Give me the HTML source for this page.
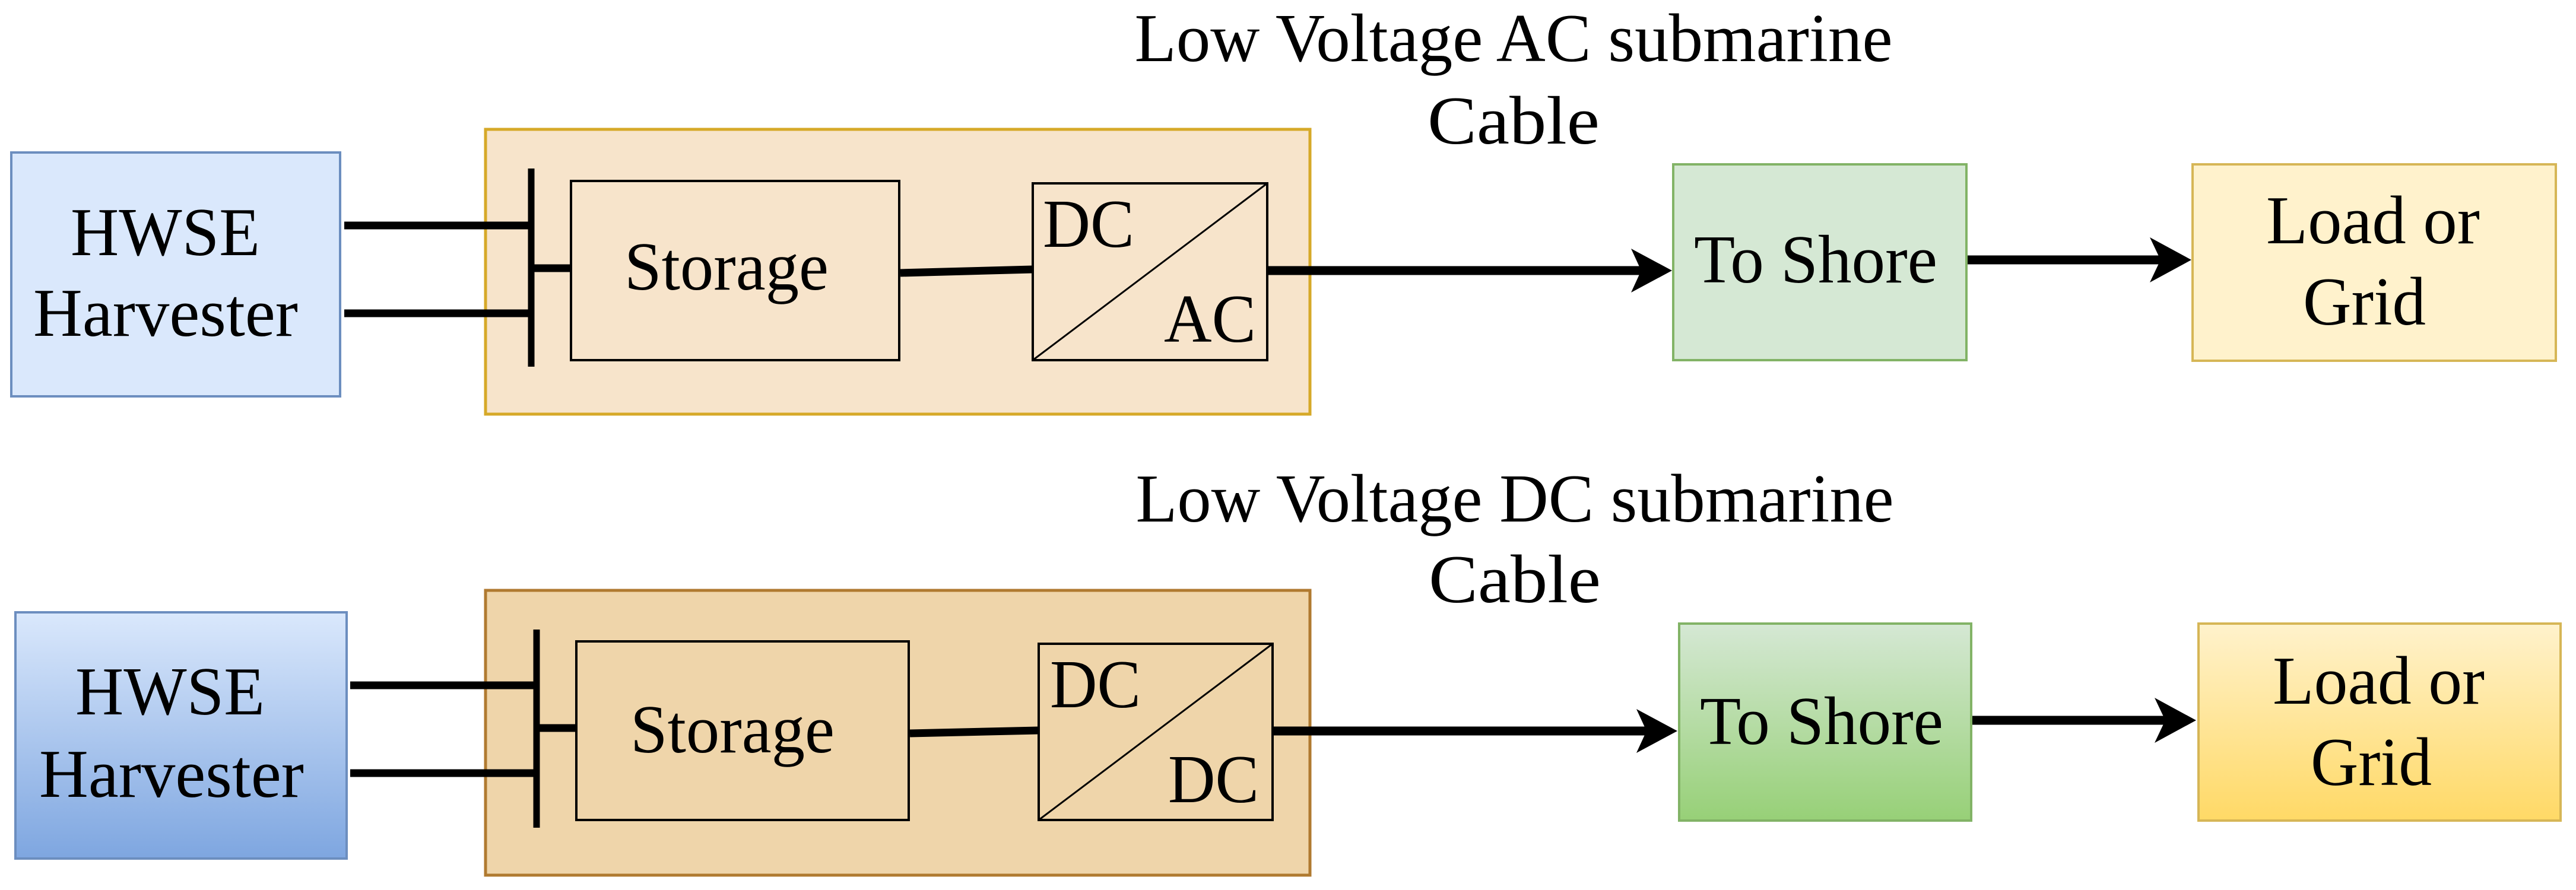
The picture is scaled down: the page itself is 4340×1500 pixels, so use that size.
<!DOCTYPE html>
<html><head><meta charset="utf-8"><style>html,body{margin:0;padding:0;background:#fff}svg{display:block}text{font-family:"Liberation Serif","Times New Roman",serif}</style></head>
<body>
<svg width="4340" height="1500" viewBox="0 0 4340 1500" xmlns="http://www.w3.org/2000/svg" style="font-family:'Liberation Serif',serif" fill="#000">
<defs>
<linearGradient id="gb" x1="0" y1="0" x2="0" y2="1"><stop offset="0" stop-color="#dae8fc"/><stop offset="1" stop-color="#7ea6e0"/></linearGradient>
<linearGradient id="gg" x1="0" y1="0" x2="0" y2="1"><stop offset="0" stop-color="#d5e8d4"/><stop offset="1" stop-color="#97d077"/></linearGradient>
<linearGradient id="gy" x1="0" y1="0" x2="0" y2="1"><stop offset="0" stop-color="#fff2cc"/><stop offset="1" stop-color="#ffd966"/></linearGradient>
</defs>

<!-- TOP ROW -->
<text x="2550" y="103" font-size="115" text-anchor="middle" textLength="1277" lengthAdjust="spacingAndGlyphs">Low Voltage AC submarine</text>
<text x="2550" y="242" font-size="115" text-anchor="middle" textLength="290" lengthAdjust="spacingAndGlyphs">Cable</text>

<rect x="19" y="257" width="554" height="411" fill="#dae8fc" stroke="#6c8ebf" stroke-width="4"/>
<text x="119" y="430" font-size="115" textLength="319" lengthAdjust="spacingAndGlyphs">HWSE</text>
<text x="56" y="566" font-size="115" textLength="446" lengthAdjust="spacingAndGlyphs">Harvester</text>

<rect x="818" y="218" width="1389" height="480" fill="#f7e4cb" stroke="#d6a928" stroke-width="5"/>
<line x1="580" y1="380" x2="895" y2="380" stroke="#000" stroke-width="13"/>
<line x1="580" y1="528" x2="895" y2="528" stroke="#000" stroke-width="13"/>
<line x1="895" y1="284" x2="895" y2="618" stroke="#000" stroke-width="11"/>
<line x1="895" y1="452" x2="962" y2="452" stroke="#000" stroke-width="13"/>
<rect x="962" y="305" width="553" height="302" fill="none" stroke="#000" stroke-width="4"/>
<text x="1052" y="488" font-size="115" textLength="344" lengthAdjust="spacingAndGlyphs">Storage</text>
<line x1="1517" y1="460" x2="1740" y2="454" stroke="#000" stroke-width="13"/>
<rect x="1740" y="309" width="395" height="298" fill="none" stroke="#000" stroke-width="4"/>
<line x1="1740" y1="607" x2="2135" y2="309" stroke="#000" stroke-width="3"/>
<text x="1757" y="416" font-size="115" textLength="154" lengthAdjust="spacingAndGlyphs">DC</text>
<text x="1961" y="576" font-size="115" textLength="155" lengthAdjust="spacingAndGlyphs">AC</text>

<line x1="2137" y1="456" x2="2765" y2="456" stroke="#000" stroke-width="15"/>
<polygon points="2817,456 2748,419 2765,456 2748,493"/>
<rect x="2819" y="277" width="494" height="330" fill="#d5e8d4" stroke="#82b366" stroke-width="4"/>
<text x="2854" y="476" font-size="115" textLength="410" lengthAdjust="spacingAndGlyphs">To Shore</text>

<line x1="3315" y1="438" x2="3640" y2="438" stroke="#000" stroke-width="15"/>
<polygon points="3692,438 3622,400 3640,438 3622,476"/>
<rect x="3694" y="277" width="612" height="331" fill="#fff2cc" stroke="#d6b656" stroke-width="4"/>
<text x="3818" y="410" font-size="115" textLength="360" lengthAdjust="spacingAndGlyphs">Load or</text>
<text x="3880" y="547" font-size="115" textLength="207" lengthAdjust="spacingAndGlyphs">Grid</text>

<!-- BOTTOM ROW -->
<text x="2552" y="879" font-size="115" text-anchor="middle" textLength="1277" lengthAdjust="spacingAndGlyphs">Low Voltage DC submarine</text>
<text x="2552" y="1015" font-size="115" text-anchor="middle" textLength="290" lengthAdjust="spacingAndGlyphs">Cable</text>

<rect x="26" y="1032" width="558" height="415" fill="url(#gb)" stroke="#6c8ebf" stroke-width="4"/>
<text x="127" y="1204" font-size="115" textLength="319" lengthAdjust="spacingAndGlyphs">HWSE</text>
<text x="66" y="1343" font-size="115" textLength="446" lengthAdjust="spacingAndGlyphs">Harvester</text>

<rect x="818" y="995" width="1389" height="480" fill="#efd5aa" stroke="#b07a30" stroke-width="5"/>
<line x1="590" y1="1155" x2="904" y2="1155" stroke="#000" stroke-width="13"/>
<line x1="590" y1="1303" x2="904" y2="1303" stroke="#000" stroke-width="13"/>
<line x1="904" y1="1061" x2="904" y2="1395" stroke="#000" stroke-width="11"/>
<line x1="904" y1="1227" x2="971" y2="1227" stroke="#000" stroke-width="13"/>
<rect x="971" y="1081" width="560" height="301" fill="none" stroke="#000" stroke-width="4"/>
<text x="1062" y="1268" font-size="115" textLength="344" lengthAdjust="spacingAndGlyphs">Storage</text>
<line x1="1533" y1="1236" x2="1750" y2="1231" stroke="#000" stroke-width="13"/>
<rect x="1750" y="1085" width="394" height="297" fill="none" stroke="#000" stroke-width="4"/>
<line x1="1750" y1="1382" x2="2144" y2="1085" stroke="#000" stroke-width="3"/>
<text x="1769" y="1192" font-size="115" textLength="153" lengthAdjust="spacingAndGlyphs">DC</text>
<text x="1968" y="1352" font-size="115" textLength="153" lengthAdjust="spacingAndGlyphs">DC</text>

<line x1="2146" y1="1232" x2="2774" y2="1232" stroke="#000" stroke-width="15"/>
<polygon points="2826,1232 2757,1195 2774,1232 2757,1269"/>
<rect x="2829" y="1051" width="492" height="332" fill="url(#gg)" stroke="#82b366" stroke-width="4"/>
<text x="2864" y="1254" font-size="115" textLength="410" lengthAdjust="spacingAndGlyphs">To Shore</text>

<line x1="3323" y1="1214" x2="3648" y2="1214" stroke="#000" stroke-width="15"/>
<polygon points="3700,1214 3630,1176 3648,1214 3630,1252"/>
<rect x="3704" y="1051" width="610" height="332" fill="url(#gy)" stroke="#d6b656" stroke-width="4"/>
<text x="3829" y="1186" font-size="115" textLength="357" lengthAdjust="spacingAndGlyphs">Load or</text>
<text x="3893" y="1323" font-size="115" textLength="204" lengthAdjust="spacingAndGlyphs">Grid</text>
</svg>
</body></html>
